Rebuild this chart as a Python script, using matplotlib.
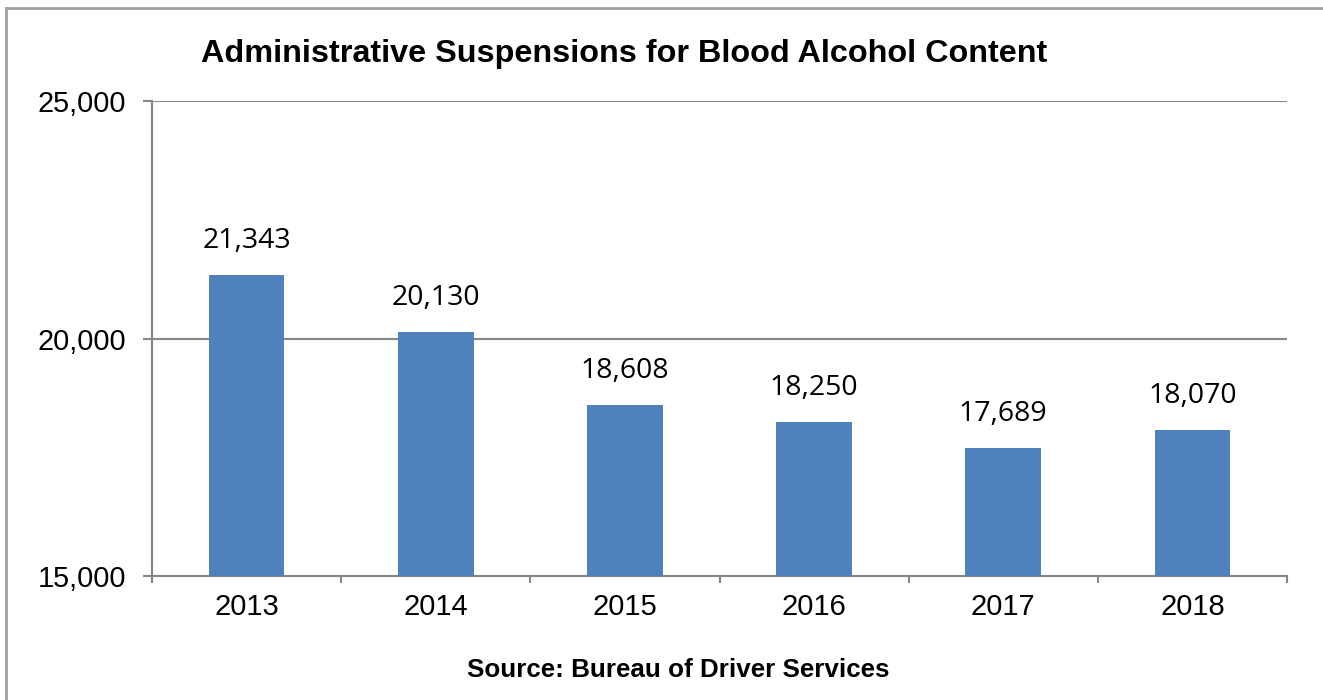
import matplotlib
matplotlib.use("Agg")
import matplotlib.pyplot as plt
from matplotlib.lines import Line2D

years = ["2013", "2014", "2015", "2016", "2017", "2018"]
values = [21343, 20130, 18608, 18250, 17689, 18070]
yticks = [15000, 20000, 25000]
title = "Administrative Suspensions for Blood Alcohol Content"
source = "Source: Bureau of Driver Services"

W, H = 1323, 700
fig = plt.figure(figsize=(W / 100, H / 100), dpi=100)
ax = fig.add_axes([152 / W, 1 - 576 / H, (1287 - 152) / W, (576 - 101) / H])

grid_c = "#868686"
x = list(range(len(years)))
ax.bar(x, values, width=0.40, color="#4F81BD", zorder=3)
ax.set_xlim(-0.5, len(years) - 0.5)
ax.set_ylim(15000, 25000)

ax.set_yticks(yticks)
ax.set_yticklabels([f"{v:,}" for v in yticks], fontsize=20.8, family="Liberation Sans")
ax.set_xticks(x)
ax.set_xticklabels(years, fontsize=21, family="Liberation Sans")
ax.set_xticks([i - 0.5 for i in range(len(years) + 1)], minor=True)
ax.tick_params(axis="x", which="major", length=0, pad=12)
ax.tick_params(axis="x", which="minor", length=5, width=1.5, color=grid_c)
ax.tick_params(axis="y", which="major", length=6.5, width=1.5, color=grid_c, pad=12)

for y in yticks[1:]:
    ax.axhline(y, color=grid_c, lw=1.5, zorder=1)
for s in ["top", "right"]:
    ax.spines[s].set_visible(False)
for s in ["left", "bottom"]:
    ax.spines[s].set_color(grid_c)
    ax.spines[s].set_linewidth(1.5)

for xi, v in zip(x, values):
    ax.annotate(f"{v:,}", (xi, v), xytext=(0, 19.5), textcoords="offset points",
                ha="center", va="baseline", fontsize=20.5, family="Open Sans")

fig.text(624 / W, 1 - 62 / H, title, ha="center", va="baseline", fontsize=23.3,
         fontweight="bold", family="Liberation Sans")
fig.text(678 / W, 1 - 677 / H, source, ha="center", va="baseline", fontsize=18.7,
         fontweight="bold", family="Liberation Sans")

bc = "#A0A0A0"
fig.add_artist(Line2D([6 / W, 6 / W], [0, 1 - 8 / H], transform=fig.transFigure, color=bc, lw=2))
fig.add_artist(Line2D([6 / W, 1], [1 - 8 / H, 1 - 8 / H], transform=fig.transFigure, color=bc, lw=2))

fig.savefig("out.png", dpi=100)
